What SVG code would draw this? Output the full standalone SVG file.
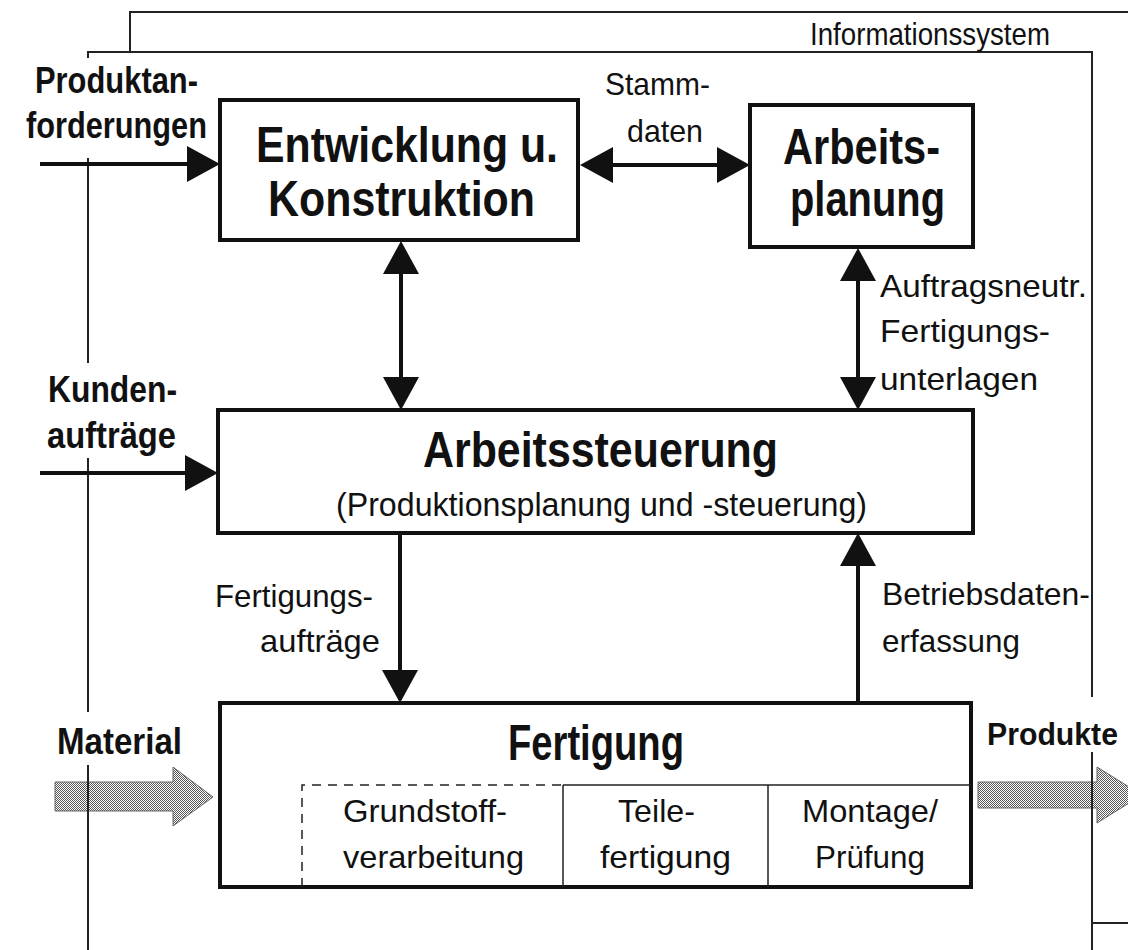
<svg xmlns="http://www.w3.org/2000/svg" width="1128" height="950" viewBox="0 0 1128 950">
<style>
.frame{fill:none;stroke:#222;stroke-width:2}
.box{fill:#fff;stroke:#111;stroke-width:4}
.sub{fill:none;stroke:#222;stroke-width:1.5}
.conn{fill:none;stroke:#111;stroke-width:4}
.big{font-family:"Liberation Sans",Arial,sans-serif;font-weight:bold;font-size:50px;fill:#111}
.lbl{font-family:"Liberation Sans",Arial,sans-serif;font-weight:bold;font-size:36px;fill:#111}
.txt{font-family:"Liberation Sans",Arial,sans-serif;font-size:32px;fill:#111}
.fat{fill:url(#dots);stroke:#666;stroke-width:1}
</style>
<defs>
<marker id="ah" markerUnits="userSpaceOnUse" markerWidth="34" markerHeight="36" viewBox="0 0 34 36" refX="13" refY="18" orient="auto-start-reverse">
<path d="M0,0 L33,18 L0,36 Z" fill="#111"/>
</marker>
<pattern id="dots" width="2" height="2" patternUnits="userSpaceOnUse">
<rect width="2" height="2" fill="#fff"/>
<rect width="1" height="1" fill="#555"/>
<rect x="1" y="1" width="1" height="1" fill="#555"/>
</pattern>
</defs>

<g id="material-flow">
<polygon class="fat" points="55,782 173,782 173,767 213,797 173,826 173,811 55,811"/>
<polygon class="fat" points="978,782 1097,782 1097,767 1142,795 1097,823 1097,808 978,808"/>
</g>

<g id="informationssystem">
<path class="frame" d="M130,52 V12 H1128"/>
<path class="frame" d="M88,58 V52 H1092 V697"/>
<path class="frame" d="M88,158 V363 M88,458 V712 M88,765 V950"/>
<path class="frame" d="M1092,752 V950 M1092,923 H1128"/>
<text class="txt" x="810" y="45" textLength="240" lengthAdjust="spacingAndGlyphs">Informationssystem</text>
</g>

<g id="connectors">
<line class="conn" x1="40" y1="164" x2="200" y2="164" marker-end="url(#ah)"/>
<line class="conn" x1="40" y1="473" x2="198" y2="473" marker-end="url(#ah)"/>
<line class="conn" x1="600" y1="165" x2="730" y2="165" marker-start="url(#ah)" marker-end="url(#ah)"/>
<line class="conn" x1="401" y1="261" x2="401" y2="390" marker-start="url(#ah)" marker-end="url(#ah)"/>
<line class="conn" x1="858" y1="268" x2="858" y2="390" marker-start="url(#ah)" marker-end="url(#ah)"/>
<line class="conn" x1="400" y1="533" x2="400" y2="683" marker-end="url(#ah)"/>
<line class="conn" x1="858" y1="703" x2="858" y2="553" marker-end="url(#ah)"/>
</g>

<g id="labels">
<text class="lbl" x="35" y="93" textLength="163" lengthAdjust="spacingAndGlyphs">Produktan-</text>
<text class="lbl" x="26" y="138" textLength="181" lengthAdjust="spacingAndGlyphs">forderungen</text>
<text class="lbl" x="48" y="402" textLength="129" lengthAdjust="spacingAndGlyphs">Kunden-</text>
<text class="lbl" x="47" y="448" textLength="129" lengthAdjust="spacingAndGlyphs">aufträge</text>
<text class="lbl" x="57" y="754" textLength="125" lengthAdjust="spacingAndGlyphs">Material</text>
<text class="lbl" x="987" y="745" style="font-size:32px" textLength="131" lengthAdjust="spacingAndGlyphs">Produkte</text>
<text class="txt" x="605" y="95" textLength="105" lengthAdjust="spacingAndGlyphs">Stamm-</text>
<text class="txt" x="627" y="142" textLength="76" lengthAdjust="spacingAndGlyphs">daten</text>
<text class="txt" x="880" y="297" textLength="207" lengthAdjust="spacingAndGlyphs">Auftragsneutr.</text>
<text class="txt" x="880" y="342" textLength="170" lengthAdjust="spacingAndGlyphs">Fertigungs-</text>
<text class="txt" x="880" y="390" textLength="158" lengthAdjust="spacingAndGlyphs">unterlagen</text>
<text class="txt" x="215" y="607" textLength="158" lengthAdjust="spacingAndGlyphs">Fertigungs-</text>
<text class="txt" x="260" y="652" textLength="120" lengthAdjust="spacingAndGlyphs">aufträge</text>
<text class="txt" x="882" y="605" textLength="208" lengthAdjust="spacingAndGlyphs">Betriebsdaten-</text>
<text class="txt" x="882" y="652" textLength="138" lengthAdjust="spacingAndGlyphs">erfassung</text>
</g>

<g id="entwicklung">
<rect class="box" x="220" y="100" width="358" height="140"/>
<text class="big" x="256" y="162" textLength="302" lengthAdjust="spacingAndGlyphs">Entwicklung u.</text>
<text class="big" x="268" y="216" textLength="267" lengthAdjust="spacingAndGlyphs">Konstruktion</text>
</g>

<g id="arbeitsplanung">
<rect class="box" x="750" y="105" width="223" height="142"/>
<text class="big" x="783" y="164" textLength="157" lengthAdjust="spacingAndGlyphs">Arbeits-</text>
<text class="big" x="790" y="216" textLength="155" lengthAdjust="spacingAndGlyphs">planung</text>
</g>

<g id="arbeitssteuerung">
<rect class="box" x="218" y="410" width="755" height="123"/>
<text class="big" x="423" y="467" textLength="355" lengthAdjust="spacingAndGlyphs">Arbeitssteuerung</text>
<text class="txt" x="336" y="516" style="font-size:33px" textLength="531" lengthAdjust="spacingAndGlyphs">(Produktionsplanung und -steuerung)</text>
</g>

<g id="fertigung">
<rect class="box" x="220" y="703" width="751" height="184"/>
<text class="big" x="508" y="760" textLength="176" lengthAdjust="spacingAndGlyphs">Fertigung</text>
<path class="sub" d="M302,887 V785 H563" stroke-dasharray="9,7"/>
<path class="sub" d="M563,785 H971 M563,785 V887 M768,785 V887"/>
<text class="txt" x="343" y="822" textLength="164" lengthAdjust="spacingAndGlyphs">Grundstoff-</text>
<text class="txt" x="343" y="868" textLength="181" lengthAdjust="spacingAndGlyphs">verarbeitung</text>
<text class="txt" x="618" y="822" textLength="77" lengthAdjust="spacingAndGlyphs">Teile-</text>
<text class="txt" x="600" y="868" textLength="131" lengthAdjust="spacingAndGlyphs">fertigung</text>
<text class="txt" x="802" y="822" textLength="136" lengthAdjust="spacingAndGlyphs">Montage/</text>
<text class="txt" x="815" y="868" textLength="110" lengthAdjust="spacingAndGlyphs">Prüfung</text>
</g>
</svg>
